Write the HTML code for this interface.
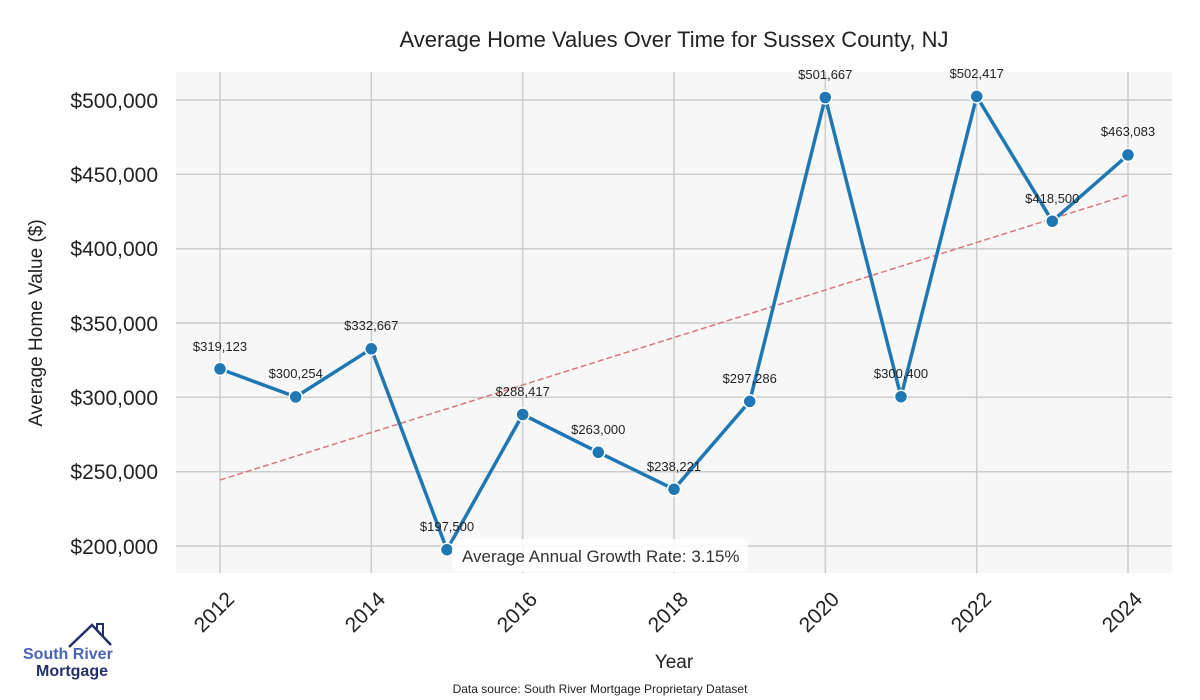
<!DOCTYPE html>
<html><head><meta charset="utf-8"><style>body{margin:0;background:#fff}svg{display:block}</style></head><body>
<svg width="1200" height="700" xmlns="http://www.w3.org/2000/svg" font-family="Liberation Sans, sans-serif">
<rect width="1200" height="700" fill="#fff"/>
<rect x="176" y="72" width="996" height="501" fill="#f7f7f7"/>
<g stroke="#cccccc" stroke-width="1.5">
<line x1="176" x2="1172" y1="100" y2="100"/><line x1="176" x2="1172" y1="174.3" y2="174.3"/><line x1="176" x2="1172" y1="248.7" y2="248.7"/><line x1="176" x2="1172" y1="323" y2="323"/><line x1="176" x2="1172" y1="397.3" y2="397.3"/><line x1="176" x2="1172" y1="471.7" y2="471.7"/><line x1="176" x2="1172" y1="546" y2="546"/>
<line y1="72" y2="573" x1="220" x2="220"/><line y1="72" y2="573" x1="371.3" x2="371.3"/><line y1="72" y2="573" x1="522.7" x2="522.7"/><line y1="72" y2="573" x1="674" x2="674"/><line y1="72" y2="573" x1="825.3" x2="825.3"/><line y1="72" y2="573" x1="976.7" x2="976.7"/><line y1="72" y2="573" x1="1128" x2="1128"/>
</g>
<line x1="220" y1="480" x2="1128" y2="195" stroke="#d9777e" stroke-width="1.5" stroke-dasharray="6,3"/>
<polyline fill="none" stroke="#1f77b4" stroke-width="3.5" stroke-linejoin="round" points="220,368.9 295.7,396.9 371.3,348.8 447,549.7 522.7,414.5 598.3,452.3 674,489.2 749.7,401.4 825.3,97.5 901,396.7 976.7,96.4 1052.3,221.2 1128,154.9"/>
<g fill="#1f77b4" stroke="#fff" stroke-width="1.5">
<circle cx="220" cy="368.9" r="6.5"/><circle cx="295.7" cy="396.9" r="6.5"/><circle cx="371.3" cy="348.8" r="6.5"/><circle cx="447" cy="549.7" r="6.5"/><circle cx="522.7" cy="414.5" r="6.5"/><circle cx="598.3" cy="452.3" r="6.5"/><circle cx="674" cy="489.2" r="6.5"/><circle cx="749.7" cy="401.4" r="6.5"/><circle cx="825.3" cy="97.5" r="6.5"/><circle cx="901" cy="396.7" r="6.5"/><circle cx="976.7" cy="96.4" r="6.5"/><circle cx="1052.3" cy="221.2" r="6.5"/><circle cx="1128" cy="154.9" r="6.5"/>
</g>
<g font-size="13" fill="#222" text-anchor="middle">
<text x="220" y="351">$319,123</text><text x="295.7" y="378">$300,254</text><text x="371.3" y="330">$332,667</text><text x="447" y="531">$197,500</text><text x="522.7" y="396">$288,417</text><text x="598.3" y="434">$263,000</text><text x="674" y="471">$238,221</text><text x="749.7" y="383">$297,286</text><text x="825.3" y="79">$501,667</text><text x="901" y="378">$300,400</text><text x="976.7" y="78">$502,417</text><text x="1052.3" y="203">$418,500</text><text x="1128" y="136">$463,083</text>
</g>
<rect x="452" y="539" width="296" height="33" rx="6" fill="#fff" opacity="0.85"/>
<text x="462" y="562" font-size="17" fill="#333">Average Annual Growth Rate: 3.15%</text>
<g font-size="21" fill="#222" text-anchor="end">
<text x="158" y="108">$500,000</text><text x="158" y="182">$450,000</text><text x="158" y="256">$400,000</text><text x="158" y="331">$350,000</text><text x="158" y="405">$300,000</text><text x="158" y="479">$250,000</text><text x="158" y="554">$200,000</text>
</g>
<g font-size="21" fill="#222" text-anchor="middle">
<text transform="translate(219,617) rotate(-45)">2012</text><text transform="translate(370,617) rotate(-45)">2014</text><text transform="translate(522,617) rotate(-45)">2016</text><text transform="translate(673,617) rotate(-45)">2018</text><text transform="translate(824,617) rotate(-45)">2020</text><text transform="translate(976,617) rotate(-45)">2022</text><text transform="translate(1127,617) rotate(-45)">2024</text>
</g>
<text x="674" y="668" font-size="19" fill="#222" text-anchor="middle">Year</text>
<text transform="translate(42,323) rotate(-90)" font-size="19" fill="#222" text-anchor="middle">Average Home Value ($)</text>
<text x="674" y="47" font-size="22" fill="#222" text-anchor="middle">Average Home Values Over Time for Sussex County, NJ</text>
<text x="600" y="693" font-size="12" fill="#222" text-anchor="middle">Data source: South River Mortgage Proprietary Dataset</text>
<polyline points="69,647 92,625 111,645" fill="none" stroke="#25306b" stroke-width="2.5"/>
<polyline points="97,630 97,624 103,624 103,637" fill="none" stroke="#25306b" stroke-width="2"/>
<text x="23" y="659" font-size="16" font-weight="bold" fill="#4a63b5">South River</text>
<text x="36" y="676" font-size="16" font-weight="bold" fill="#25306b">Mortgage</text>
</svg>
</body></html>
